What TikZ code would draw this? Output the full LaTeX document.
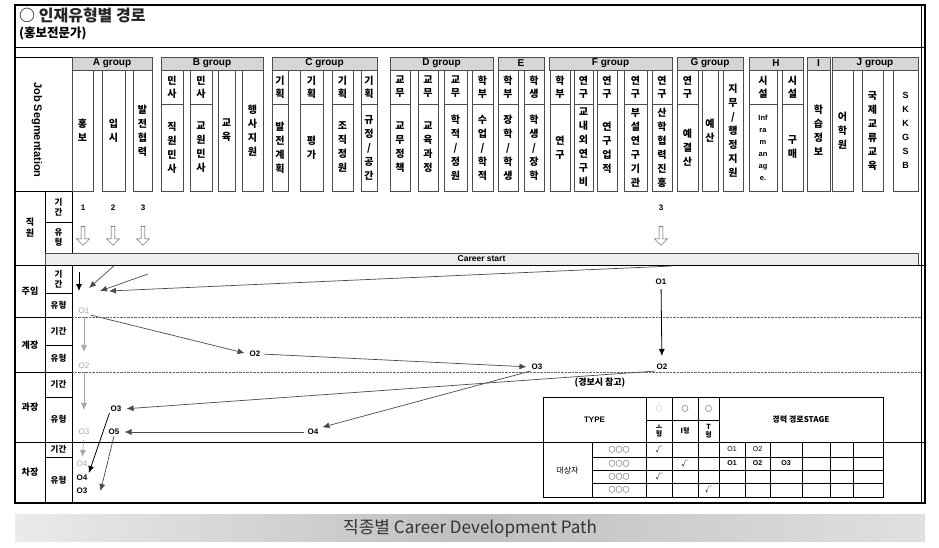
\documentclass[tikz,border=0pt]{standalone}
\usepackage{fontspec}
\setmainfont{Noto Sans CJK KR}
\newfontfamily\latin{Liberation Sans}
\usetikzlibrary{arrows.meta,shapes.arrows,positioning}
\definecolor{pathgray}{HTML}{4A4A4A}
\definecolor{fadegray}{HTML}{A6A6A6}
\definecolor{headgray}{HTML}{D6D6D6}
\definecolor{bargray}{HTML}{EDEDED}
\tikzset{
  grphead/.style={rectangle, draw=black!70, fill=headgray, minimum height=13pt, inner sep=0pt, font=\latin\bfseries\fontsize{10}{11}\selectfont},
  coltop/.style={rectangle, draw=black!70, minimum height=34pt, inner sep=0pt, align=center, font=\bfseries\fontsize{10}{13}\selectfont},
  colbot/.style={coltop, minimum height=87pt, font=\bfseries\fontsize{10}{14}\selectfont},
  colfull/.style={coltop, minimum height=121pt, font=\bfseries\fontsize{10}{14}\selectfont},
  rowlab/.style={align=center, inner sep=0pt, font=\bfseries\fontsize{9}{11}\selectfont},
  sublab/.style={align=center, inner sep=0pt, font=\bfseries\fontsize{8.5}{10}\selectfont},
  numlab/.style={inner sep=0pt, font=\latin\bfseries\fontsize{8}{9}\selectfont},
  hollow/.style={single arrow, draw=black!70, fill=white, minimum height=19pt, minimum width=13pt, single arrow head extend=3pt, single arrow head indent=0pt, shape border rotate=270, inner sep=1pt},
  olab/.style={inner sep=1pt, font=\latin\bfseries\fontsize{8}{9}\selectfont},
  ofade/.style={olab, text=fadegray, font=\latin\fontsize{8}{9}\selectfont},
  flow/.style={-{Latex[length=7pt,width=6pt]}, draw=pathgray, line width=0.7pt},
  bflow/.style={flow, draw=black, line width=0.8pt},
  gflow/.style={flow, draw=fadegray},
  dotline/.style={densely dotted, draw=black!60},
  cell/.style={inner sep=0pt, align=center, font=\bfseries\fontsize{7}{8}\selectfont},
}
\begin{document}
\begin{tikzpicture}[x=1pt,y=-1pt]
  \useasboundingbox (0,0) rectangle (939,548);
  % frame and title
  \draw[line width=1.1pt] (15,5) rectangle (925,503);
  \draw (921,5) -- (921,503);
  \node[anchor=west, inner sep=0pt, text=black!85, font=\bfseries\fontsize{16}{18}\selectfont] (title) at (19,15) {○ 인재유형별 경로};
  \node[anchor=west, inner sep=0pt, font=\bfseries\fontsize{12.5}{14}\selectfont] (subtitle) at (19,33) {(홍보전문가)};
  \draw (15,47) -- (925,47);

  % left block
  \draw (15,57) -- (72,57);
  \draw (72,57) -- (72,503);
  \draw (15,191) -- (72,191);
  \draw (45,191) -- (45,503);
  \node[rotate=-90, inner sep=0pt, font=\latin\bfseries\fontsize{11}{12}\selectfont] (jobseg) at (37,130) {Job Segmentation};

  % group headers
  \node[grphead, minimum width=80pt] (grpA) at (112,63.5) {A group};
  \node[grphead, minimum width=102pt] (grpB) at (212,63.5) {B group};
  \node[grphead, minimum width=105pt] (grpC) at (324.5,63.5) {C group};
  \node[grphead, minimum width=103pt] (grpD) at (441.5,63.5) {D group};
  \node[grphead, minimum width=46pt] (grpE) at (521,63.5) {E};
  \node[grphead, minimum width=123pt] (grpF) at (610.5,63.5) {F group};
  \node[grphead, minimum width=66pt] (grpG) at (710,63.5) {G group};
  \node[grphead, minimum width=54pt] (grpH) at (776,63.5) {H};
  \node[grphead, minimum width=23pt] (grpI) at (818.5,63.5) {I};
  \node[grphead, minimum width=86pt] (grpJ) at (875,63.5) {J group};

  % A group
  \node[colfull, minimum width=21pt] (colA1) at (82.5,130.5) {홍\\보};
  \node[colfull, minimum width=23pt] (colA2) at (113.5,130.5) {입\\시};
  \node[colfull, minimum width=19pt] (colA3) at (142.5,130.5) {발\\전\\협\\력};
  % B group
  \node[coltop, minimum width=22pt] (colB1t) at (172,87) {민\\사};
  \node[colbot, minimum width=22pt] (colB1) at (172,147.5) {직\\원\\민\\사};
  \node[coltop, minimum width=22pt] (colB2t) at (201,87) {민\\사};
  \node[colbot, minimum width=22pt] (colB2) at (201,147.5) {교\\원\\민\\사};
  \node[colfull, minimum width=17pt] (colB3) at (226.5,130.5) {교\\육};
  \node[colfull, minimum width=21pt] (colB4) at (252.5,130.5) {행\\사\\지\\원};
  % C group
  \node[coltop, minimum width=16pt] (colC1t) at (280,87) {기\\획};
  \node[colbot, minimum width=16pt] (colC1) at (280,147.5) {발\\전\\계\\획};
  \node[coltop, minimum width=23pt] (colC2t) at (311.5,87) {기\\획};
  \node[colbot, minimum width=23pt] (colC2) at (311.5,147.5) {평\\가};
  \node[coltop, minimum width=21pt] (colC3t) at (342.5,87) {기\\획};
  \node[colbot, minimum width=21pt] (colC3) at (342.5,147.5) {조\\직\\정\\원};
  \node[coltop, minimum width=16pt] (colC4t) at (369,87) {기\\획};
  \node[colbot, minimum width=16pt] (colC4) at (369,147.5) {규\\정\\/\\공\\간};
  % D group
  \node[coltop, minimum width=20pt] (colD1t) at (400,87) {교\\무};
  \node[colbot, minimum width=20pt] (colD1) at (400,147.5) {교\\무\\정\\책};
  \node[coltop, minimum width=20pt] (colD2t) at (428,87) {교\\무};
  \node[colbot, minimum width=20pt] (colD2) at (428,147.5) {교\\육\\과\\정};
  \node[coltop, minimum width=23pt] (colD3t) at (455.5,87) {교\\무};
  \node[colbot, minimum width=23pt] (colD3) at (455.5,147.5) {학\\적\\/\\정\\원};
  \node[coltop, minimum width=21pt] (colD4t) at (482.5,87) {학\\부};
  \node[colbot, minimum width=21pt] (colD4) at (482.5,147.5) {수\\업\\/\\학\\적};
  % E
  \node[coltop, minimum width=20pt] (colE1t) at (508,87) {학\\부};
  \node[colbot, minimum width=20pt] (colE1) at (508,147.5) {장\\학\\/\\학\\생};
  \node[coltop, minimum width=20pt] (colE2t) at (534,87) {학\\생};
  \node[colbot, minimum width=20pt] (colE2) at (534,147.5) {학\\생\\/\\장\\학};
  % F group
  \node[coltop, minimum width=20pt] (colF1t) at (560,87) {학\\부};
  \node[colbot, minimum width=20pt] (colF1) at (560,147.5) {연\\구};
  \node[coltop, minimum width=19pt] (colF2t) at (583.5,87) {연\\구};
  \node[colbot, minimum width=19pt] (colF2) at (583.5,147.5) {교\\내\\외\\연\\구\\비};
  \node[coltop, minimum width=20pt] (colF3t) at (607,87) {연\\구};
  \node[colbot, minimum width=20pt] (colF3) at (607,147.5) {연\\구\\업\\적};
  \node[coltop, minimum width=23pt] (colF4t) at (635.5,87) {연\\구};
  \node[colbot, minimum width=23pt] (colF4) at (635.5,147.5) {부\\설\\연\\구\\기\\관};
  \node[coltop, minimum width=20pt] (colF5t) at (662,87) {연\\구};
  \node[colbot, minimum width=20pt] (colF5) at (662,147.5) {산\\학\\협\\력\\진\\흥};
  % G group
  \node[coltop, minimum width=21pt] (colG1t) at (687.5,87) {연\\구};
  \node[colbot, minimum width=21pt] (colG1) at (687.5,147.5) {예\\결\\산};
  \node[colfull, minimum width=16pt] (colG2) at (710,130.5) {예\\산};
  \node[colfull, minimum width=20pt] (colG3) at (733,130.5) {지\\무\\/\\행\\정\\지\\원};
  % H, I, J
  \node[coltop, minimum width=28pt] (colH1t) at (763,87) {시\\설};
  \node[colbot, minimum width=28pt, font=\latin\bfseries\fontsize{7.5}{12}\selectfont] (colH1) at (763,147.5) {Inf\\ra\\m\\an\\ag\\e.};
  \node[coltop, minimum width=21pt] (colH2t) at (792.5,87) {시\\설};
  \node[colbot, minimum width=21pt] (colH2) at (792.5,147.5) {구\\매};
  \node[colfull, minimum width=23pt] (colI1) at (818.5,130.5) {학\\습\\정\\보};
  \node[colfull, minimum width=21pt] (colJ1) at (842.5,130.5) {어\\학\\원};
  \node[colfull, minimum width=21pt] (colJ2) at (872.5,130.5) {국\\제\\교\\류\\교\\육};
  \node[colfull, minimum width=25pt, font=\latin\bfseries\fontsize{9}{14}\selectfont] (colJ3) at (905.5,130.5) {S\\K\\K\\G\\S\\B};

  % rows
  \draw (45,222) -- (72,222);
  \node[rectangle, draw=black!70, fill=bargray, minimum width=873pt, minimum height=12pt, inner sep=0pt, font=\latin\bfseries\fontsize{8.5}{9}\selectfont] (start) at (481.5,259) {Career start};
  \draw (15,265) -- (925,265);
  \draw (45,293) -- (72,293);
  \draw (15,317) -- (72,317);
  \draw[dotline] (72,317) -- (921,317);
  \draw (45,345) -- (72,345);
  \draw (15,372) -- (72,372);
  \draw[dotline] (72,372) -- (921,372);
  \draw (45,397) -- (72,397);
  \draw (15,442) -- (925,442);
  \draw (45,457) -- (72,457);

  \node[rowlab] (rowStaff) at (30,228) {직\\원};
  \node[rowlab] (rowJuim) at (30,291) {주임};
  \node[rowlab] (rowGyejang) at (30,345) {계장};
  \node[rowlab] (rowGwajang) at (30,407) {과장};
  \node[rowlab] (rowChajang) at (30,472) {차장};
  \node[sublab] (per1) at (58.5,207) {기\\간};
  \node[sublab] (typ1) at (58.5,237) {유\\형};
  \node[sublab] (per2) at (58.5,279) {기\\간};
  \node[sublab] (typ2) at (58.5,305) {유형};
  \node[sublab] (per3) at (58.5,331) {기간};
  \node[sublab] (typ3) at (58.5,358) {유형};
  \node[sublab] (per4) at (58.5,384) {기간};
  \node[sublab] (typ4) at (58.5,419) {유형};
  \node[sublab] (per5) at (58.5,449) {기간};
  \node[sublab] (typ5) at (58.5,480) {유형};

  % entry points
  \node[numlab] (num1) at (83,208) {1};
  \node[numlab] (num2) at (113,208) {2};
  \node[numlab] (num3) at (143,208) {3};
  \node[numlab] (num4) at (661,208) {3};
  \node[hollow] (in1) at (83,235) {};
  \node[hollow] (in2) at (113,235) {};
  \node[hollow] (in3) at (143,235) {};
  \node[hollow] (in4) at (661,235) {};
  \coordinate (s1) at (79,272);
  \coordinate (t1) at (79,291);
  \coordinate (s2) at (115,265);
  \coordinate (t2) at (89,288);
  \coordinate (s3) at (148,274);
  \coordinate (t3) at (100,291);
  \coordinate (s4) at (672,266);
  \coordinate (t4) at (109,291);
  \draw[bflow] (s1) -- (t1);
  \draw[flow] (s2) -- (t2);
  \draw[flow] (s3) -- (t3);
  \draw[flow] (s4) -- (t4);

  % path labels
  \node[ofade] (fade1) at (84,311) {O1};
  \node[ofade] (fade2) at (84,366) {O2};
  \node[ofade] (fade3) at (84,432) {O3};
  \node[ofade] (fade4) at (82,464) {O4};
  \node[olab] (bold1) at (661,282) {O1};
  \node[olab] (bold2) at (662,367) {O2};
  \node[olab] (bold3) at (116,409) {O3};
  \node[olab] (bold4) at (82,478) {O4};
  \node[olab] (mid2) at (255,354) {O2};
  \node[olab] (mid3) at (537,367) {O3};
  \node[olab] (mid4) at (313,432) {O4};
  \node[olab] (mid5) at (114,432) {O5};
  \node[olab] (mid6) at (82,491) {O3};

  \draw[gflow, shorten <=2pt, shorten >=10pt] (fade1) -- (fade2);
  \draw[gflow, shorten <=2pt, shorten >=18pt] (fade2) -- (fade3);
  \draw[gflow, shorten <=4pt, shorten >=3pt] (fade3) -- (fade4);
  \draw[flow, shorten >=4pt] (fade1.south east) -- (mid2.west);
  \draw[flow, shorten <=2pt, shorten >=4pt] (mid2.east) -- (mid3.west);
  \draw[bflow, shorten <=3pt, shorten >=7pt] (bold1) -- (bold2);
  \draw[flow, shorten >=4pt] (bold2.south west) -- (bold3.east);
  \draw[flow, shorten >=3pt] (mid3.south west) -- (mid4.north east);
  \draw[flow, shorten <=2pt, shorten >=4pt] (mid4.west) -- (mid5.east);
  \draw[bflow, shorten >=1pt] (bold3.south west) -- (bold4.north east);
  \draw[flow] (mid5.south) -- ([xshift=12pt]mid6.east);

  % reference table
  \node[inner sep=0pt, font=\bfseries\fontsize{9}{10}\selectfont] (tabnote) at (600,383) {(경보시 참고)};
  \draw (543,397) rectangle (883,497);
  \draw (543,442) -- (883,442);
  \draw (646,420) -- (719,420);
  \foreach \ty in {457,470,483} \draw (592,\ty) -- (883,\ty);
  \foreach \tx in {646,672,698,719} \draw (\tx,397) -- (\tx,497);
  \foreach \tx in {592,745,770,802,830,853} \draw (\tx,442) -- (\tx,497);
  \node[cell, font=\latin\bfseries\fontsize{8}{9}\selectfont] (typehead) at (594.5,419.5) {TYPE};
  \node[cell, text=black!30] (mark1) at (659,408.5) {○};
  \node[cell] (mark2) at (685,408.5) {○};
  \node[cell] (mark3) at (708.5,408.5) {○};
  \node[cell, font=\bfseries\fontsize{7}{7.5}\selectfont] (kind1) at (659,431) {ㅗ\\형};
  \node[cell] (kind2) at (685,431) {I형};
  \node[cell, font=\bfseries\fontsize{7}{7.5}\selectfont] (kind3) at (708.5,431) {T\\형};
  \node[cell, font=\bfseries\fontsize{8}{9}\selectfont] (stagehead) at (801,419.5) {경력 경로STAGE};
  \node[cell, font=\fontsize{8}{9}\selectfont] (target) at (567.5,470) {대상자};
  \node[cell] (name1) at (619,449.5) {○○○};
  \node[cell] (name2) at (619,463.5) {○○○};
  \node[cell] (name3) at (619,476.5) {○○○};
  \node[cell] (name4) at (619,490) {○○○};
  \node[cell] (chk1) at (659,449.5) {√};
  \node[cell] (chk2) at (685,463.5) {√};
  \node[cell] (chk3) at (659,476.5) {√};
  \node[cell] (chk4) at (708.5,490) {√};
  \node[cell, font=\latin\fontsize{7}{8}\selectfont] (st11) at (732,449.5) {O1};
  \node[cell, font=\latin\fontsize{7}{8}\selectfont] (st12) at (757.5,449.5) {O2};
  \node[cell, font=\latin\bfseries\fontsize{7}{8}\selectfont] (st21) at (732,463.5) {O1};
  \node[cell, font=\latin\bfseries\fontsize{7}{8}\selectfont] (st22) at (757.5,463.5) {O2};
  \node[cell, font=\latin\bfseries\fontsize{7}{8}\selectfont] (st23) at (786,463.5) {O3};

  % caption bar
  \node[rectangle, left color=black!8, right color=black!12, middle color=black!25, minimum width=910pt, minimum height=27pt, inner sep=0pt, text=black!80, font=\fontsize{17}{19}\selectfont] (caption) at (470,528) {직종별 Career Development Path};
\end{tikzpicture}
\end{document}
